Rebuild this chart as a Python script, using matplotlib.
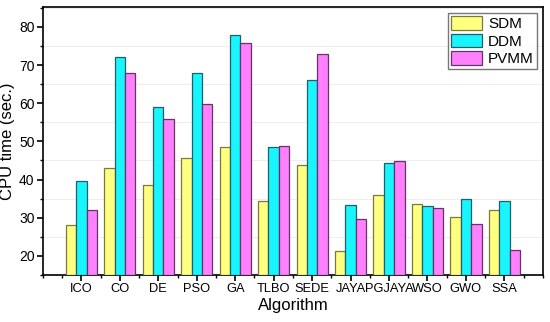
import matplotlib
matplotlib.use("Agg")
import matplotlib.pyplot as plt
import numpy as np
from matplotlib.ticker import MultipleLocator

plt.rcParams['font.family'] = ['Liberation Sans', 'DejaVu Sans']

algorithms = ["ICO", "CO", "DE", "PSO", "GA", "TLBO", "SEDE", "JAYA", "PGJAYA", "WSO", "GWO", "SSA"]
sdm = [28.0, 43.0, 38.5, 45.7, 48.6, 34.5, 43.8, 21.3, 36.0, 33.5, 30.2, 32.0]
ddm = [39.5, 72.0, 59.0, 68.0, 77.8, 48.5, 66.0, 33.3, 44.3, 33.0, 34.8, 34.3]
pvmm = [32.0, 68.0, 56.0, 59.7, 75.7, 48.7, 72.8, 29.7, 44.8, 32.5, 28.3, 21.6]

fig = plt.figure(figsize=(5.5, 3.22), dpi=100)
ax = fig.add_axes([0.078, 0.146, 0.909, 0.832])

x = np.arange(1, len(algorithms) + 1)
w = 0.27
base = 15
series = [(sdm, "SDM", "#ffff80", "#7a7a3a"),
          (ddm, "DDM", "#19f5ff", "#1f5f66"),
          (pvmm, "PVMM", "#ff80ff", "#663366")]
for i, (vals, name, fc, ec) in enumerate(series):
    ax.bar(x + (i - 1) * w, np.array(vals) - base, w, bottom=base,
           color=fc, edgecolor=ec, linewidth=0.9, label=name, zorder=3)

ax.set_xlim(0, 13)
ax.set_ylim(15, 85.2)
ax.set_xticks(x)
ax.set_xticklabels(algorithms)
ax.xaxis.set_minor_locator(MultipleLocator(0.5))
ax.yaxis.set_minor_locator(MultipleLocator(5))
ax.set_yticks([20, 30, 40, 50, 60, 70, 80])
ax.grid(axis='y', which='minor', color='#eeeeee', linewidth=0.8, zorder=0)

ax.tick_params(axis='both', which='major', direction='out', length=4, width=1.2, labelsize=10, pad=2)
ax.tick_params(axis='x', which='major', labelsize=9.3)
ax.tick_params(axis='both', which='minor', direction='out', length=2.5, width=1)
for s in ax.spines.values():
    s.set_linewidth(1.2)

ax.set_xlabel("Algorithm", fontsize=12, labelpad=2)
ax.set_ylabel("CPU time (sec.)", fontsize=12, labelpad=3)

leg = ax.legend(loc='upper right', fontsize=11, frameon=True, fancybox=False,
                edgecolor='#555555', handlelength=2.0, handleheight=1.0,
                borderpad=0.2, labelspacing=0.15, handletextpad=0.4,
                borderaxespad=0.4)
leg.get_frame().set_linewidth(1.0)

fig.savefig("out.png", dpi=100)
